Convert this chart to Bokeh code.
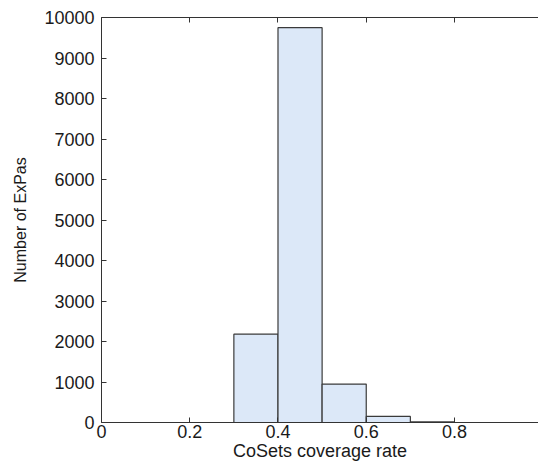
from bokeh.plotting import figure
from bokeh.models import LinearAxis, FixedTicker, Range1d
from bokeh.embed import file_html
from bokeh.resources import INLINE

# Histogram data
bin_left = [0.3, 0.4, 0.5, 0.6, 0.7]
bin_right = [0.4, 0.5, 0.6, 0.7, 0.8]
counts = [2180, 9750, 950, 150, 15]

x_ticks = [0, 0.2, 0.4, 0.6, 0.8]
y_ticks = [0, 1000, 2000, 3000, 4000, 5000, 6000, 7000, 8000, 9000, 10000]

FONT = "Liberation Sans"
TEXT = "#1a1a1a"
AXIS = "#333333"

p = figure(width=538, height=466, output_backend="svg", toolbar_location=None,
           x_range=Range1d(0, 0.9904), y_range=Range1d(0, 10000),
           min_border_left=101, min_border_right=0, min_border_top=17,
           min_border_bottom=44, x_axis_label="CoSets coverage rate",
           y_axis_label="Number of ExPas")
p.outline_line_color = None
p.xgrid.visible = False
p.ygrid.visible = False
p.background_fill_color = "white"
p.border_fill_color = "white"

p.quad(left=bin_left, right=bin_right, bottom=0, top=counts,
       fill_color="#dce8f8", line_color="#3a3a3a", line_width=1.2)

for ax in (p.xaxis[0], p.yaxis[0]):
    ax.major_tick_in = 5
    ax.major_tick_out = 0
    ax.minor_tick_line_color = None
    ax.axis_line_color = AXIS
    ax.major_tick_line_color = AXIS
    ax.major_label_text_font = FONT
    ax.major_label_text_font_size = "18px"
    ax.major_label_text_color = TEXT
    ax.axis_label_text_font = FONT
    ax.axis_label_text_font_style = "normal"
    ax.axis_label_text_color = TEXT

p.xaxis[0].axis_label_text_font_size = "18px"
p.yaxis[0].axis_label_text_font_size = "16px"
p.xaxis[0].ticker = FixedTicker(ticks=x_ticks)
p.yaxis[0].ticker = FixedTicker(ticks=y_ticks)
p.xaxis[0].major_label_standoff = 2
p.xaxis[0].axis_label_standoff = 0
p.yaxis[0].major_label_standoff = 7
p.yaxis[0].axis_label_standoff = 12

top = LinearAxis(ticker=FixedTicker(ticks=x_ticks))
top.major_tick_in = 5
top.major_tick_out = 0
top.minor_tick_line_color = None
top.axis_line_color = AXIS
top.major_tick_line_color = AXIS
top.major_label_text_font_size = "0px"
top.major_label_standoff = 0
top.major_label_text_color = None
p.add_layout(top, "above")

open("out.html", "w").write(file_html(p, INLINE))
